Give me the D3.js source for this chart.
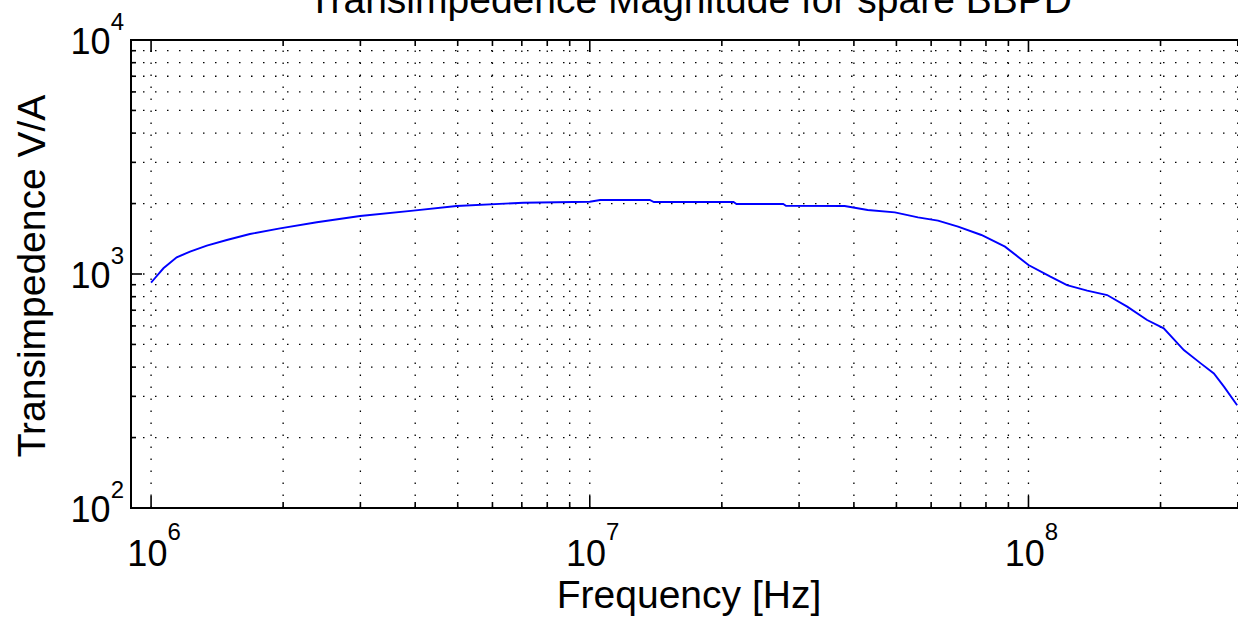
<!DOCTYPE html>
<html>
<head>
  <meta charset="utf-8">
  <script src="https://d3js.org/d3.v7.min.js"></script>
  <title>Transimpedence Magnitude</title>
  <style>
    body { margin: 0; background: #fff; }
    text { font-family: "Liberation Sans", Arial, sans-serif; fill: #000; }
  </style>
</head>
<body>
<script>
var freq = [1.0e6, 1.02e6, 1.067e6, 1.144e6, 1.227e6, 1.34e6, 1.488e6, 1.68e6, 1.968e6,
  2.387e6, 2.995e6, 3.96e6, 4.97e6, 7.06e6, 1.0e7, 1.056e7, 1.37e7, 1.4e7, 2.126e7,
  2.16e7, 2.76e7, 2.8e7, 3.81e7, 4.3e7, 4.96e7, 5.6e7, 6.22e7, 6.91e7, 7.81e7, 8.84e7,
  1.0e8, 1.122e8, 1.224e8, 1.361e8, 1.511e8, 1.679e8, 1.864e8, 2.034e8, 2.26e8, 2.47e8,
  2.646e8, 2.79e8, 2.99e8];
var mag = [918, 959, 1058, 1179, 1245, 1321, 1397, 1482, 1567,
  1663, 1770, 1865, 1953, 2017, 2037, 2071, 2071, 2031, 2031,
  1991, 1991, 1958, 1953, 1877, 1834, 1746, 1690, 1593, 1468, 1309,
  1093, 974, 897, 849, 813, 725, 636, 586, 473, 415,
  376, 330, 275];

var xMajor = [1e6, 1e7, 1e8];
var yMajor = [1e2, 1e3, 1e4];
var xDomain = [9e5, 3.2e8];
var yDomain = [1e2, 1e4];

var titleText = "Transimpedence Magnitude for spare BBPD";
var xLabel = "Frequency [Hz]";
var yLabel = "Transimpedence V/A";

var W = 1238, H = 620;
var padL = 131, padT = 40, padB = 508;
var decade = 438.7;
var padR = padL + decade * Math.log10(xDomain[1] / xDomain[0]);

var svg = d3.select("body").append("svg")
  .attr("width", W)
  .attr("height", H);

var x = d3.scaleLog().domain(xDomain).range([padL, padR]);
var y = d3.scaleLog().domain(yDomain).range([padB, padT]);

// minor + major positions (1..9 per decade)
function minorTicks(lo, hi) {
  var out = [];
  for (var e = Math.floor(Math.log10(lo)); e <= Math.ceil(Math.log10(hi)); e++) {
    for (var m = 1; m < 10; m++) {
      var v = m * Math.pow(10, e);
      if (v >= lo && v <= hi) out.push(v);
    }
  }
  return out;
}
var xAll = minorTicks(xDomain[0], xDomain[1]);
var yAll = minorTicks(yDomain[0], yDomain[1]);

// dotted grid
svg.append("g").selectAll("line")
  .data(xAll)
  .enter().append("line")
  .attr("x1", function(d) { return x(d); })
  .attr("x2", function(d) { return x(d); })
  .attr("y1", padB)
  .attr("y2", padT)
  .style("stroke", "#000")
  .style("stroke-width", 1.3)
  .style("stroke-dasharray", "1.5,10.5");

svg.append("g").selectAll("line")
  .data(yAll.filter(function(d) { return d > yDomain[0] && d < yDomain[1]; }))
  .enter().append("line")
  .attr("x1", padL)
  .attr("x2", padR)
  .attr("y1", function(d) { return y(d); })
  .attr("y2", function(d) { return y(d); })
  .style("stroke", "#000")
  .style("stroke-width", 1.3)
  .style("stroke-dasharray", "1.5,10.5");

// data line
var pts = freq.map(function(f, i) { return [f, mag[i]]; });
svg.append("path")
  .datum(pts)
  .attr("d", d3.line()
    .x(function(d) { return x(d[0]); })
    .y(function(d) { return y(d[1]); }))
  .style("fill", "none")
  .style("stroke", "#0000ff")
  .style("stroke-width", 1.9);

// axes box (right side falls outside the window)
svg.append("rect")
  .attr("x", padL).attr("y", padT)
  .attr("width", padR - padL).attr("height", padB - padT)
  .style("fill", "none")
  .style("stroke", "#000")
  .style("stroke-width", 2);

// inward ticks on all four sides
function isMajor(v) { return Math.abs(Math.log10(v) - Math.round(Math.log10(v))) < 1e-9; }
var tickG = svg.append("g").style("stroke", "#000").style("stroke-width", 1.6);
xAll.forEach(function(d) {
  var len = isMajor(d) ? 12 : 6;
  tickG.append("line").attr("x1", x(d)).attr("x2", x(d)).attr("y1", padB).attr("y2", padB - len);
  tickG.append("line").attr("x1", x(d)).attr("x2", x(d)).attr("y1", padT).attr("y2", padT + len);
});
yAll.forEach(function(d) {
  var len = isMajor(d) ? 11 : 5;
  tickG.append("line").attr("x1", padL).attr("x2", padL + len).attr("y1", y(d)).attr("y2", y(d));
  tickG.append("line").attr("x1", padR).attr("x2", padR - len).attr("y1", y(d)).attr("y2", y(d));
});

// tick labels as 10^n
var xl = svg.append("g").selectAll("text")
  .data(xMajor)
  .enter().append("text")
  .attr("text-anchor", "middle")
  .attr("x", function(d) { return x(d) + 3; })
  .attr("y", padB + 58)
  .style("font-size", "36px");
xl.append("tspan").text("10");
xl.append("tspan")
  .attr("dy", -26)
  .style("font-size", "24px")
  .text(function(d) { return Math.round(Math.log10(d)); });

var yl = svg.append("g").selectAll("text")
  .data(yMajor)
  .enter().append("text")
  .attr("text-anchor", "end")
  .attr("x", padL - 7)
  .attr("y", function(d) { return y(d) + 14; })
  .style("font-size", "36px");
yl.append("tspan").text("10");
yl.append("tspan")
  .attr("dy", -24)
  .style("font-size", "24px")
  .text(function(d) { return Math.round(Math.log10(d)); });

// titles
svg.append("text")
  .attr("x", 690)
  .attr("y", 13)
  .attr("text-anchor", "middle")
  .style("font-size", "39px")
  .text(titleText);

svg.append("text")
  .attr("x", 689)
  .attr("y", 608)
  .attr("text-anchor", "middle")
  .style("font-size", "39px")
  .text(xLabel);

svg.append("text")
  .attr("transform", "translate(45,276) rotate(-90)")
  .attr("text-anchor", "middle")
  .style("font-size", "39px")
  .text(yLabel);
</script>
</body>
</html>
